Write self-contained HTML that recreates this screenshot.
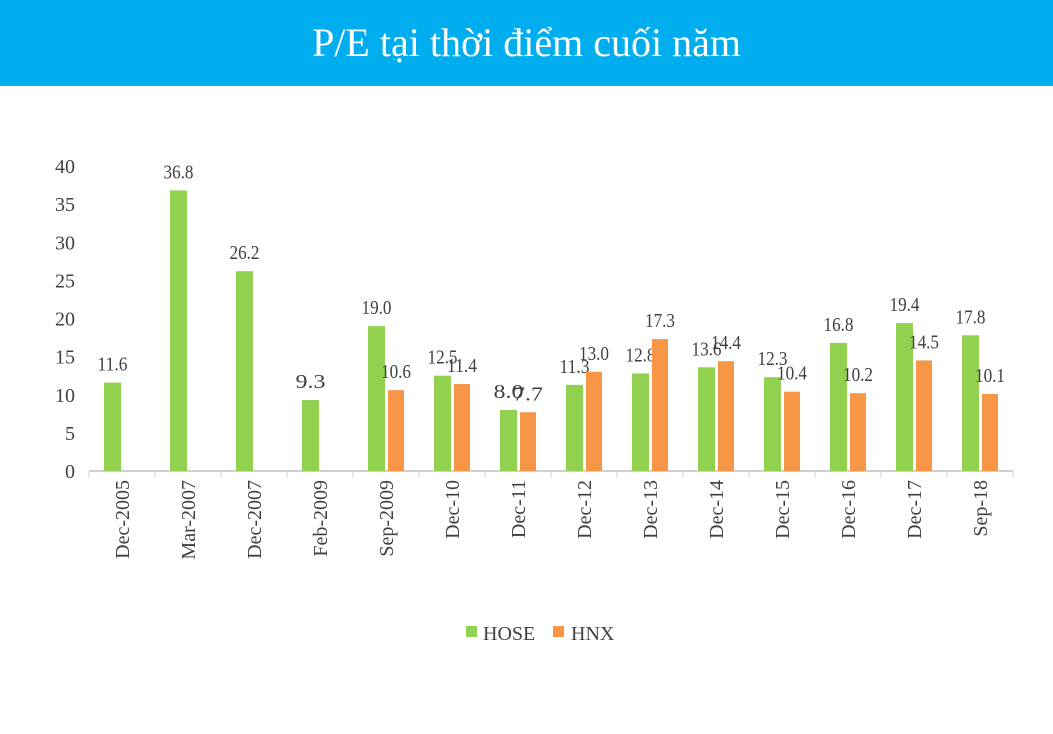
<!DOCTYPE html>
<html><head><meta charset="utf-8"><style>
body{margin:0;width:1053px;height:734px;background:#fff;overflow:hidden;font-family:"Liberation Serif",serif}
#hdr{position:absolute;left:0;top:0;width:1053px;height:86px;background:#00AEEF;color:#fff;font-size:40px;text-align:center;line-height:86px}
svg{position:absolute;left:0;top:0}
text{font-family:"Liberation Serif",serif;fill:#404040}
</style></head><body>
<div id="hdr">P/E tại thời điểm cuối năm</div>
<svg id="c" width="1053" height="734"></svg>
<script>
const categories=["Dec-2005","Mar-2007","Dec-2007","Feb-2009","Sep-2009","Dec-10","Dec-11","Dec-12","Dec-13","Dec-14","Dec-15","Dec-16","Dec-17","Sep-18"];
const hose=[11.6,36.8,26.2,9.3,19.0,12.5,8.0,11.3,12.8,13.6,12.3,16.8,19.4,17.8];
const hnx=[null,null,null,null,10.6,11.4,7.7,13.0,17.3,14.4,10.4,10.2,14.5,10.1];
const yTicks=[0,5,10,15,20,25,30,35,40];
const svg=document.getElementById('c');const NS='http://www.w3.org/2000/svg';
function mk(t,a,p){const e=document.createElementNS(NS,t);for(const k in a)e.setAttribute(k,a[k]);(p||svg).appendChild(e);return e;}
const x0=89,cw=66,y0=471,ppu=7.625;
const y=v=>y0-v*ppu;const cx=i=>x0+i*cw;
yTicks.forEach(t=>{const e=mk('text',{x:75,y:y(t)+7,'text-anchor':'end','font-size':20});e.textContent=t;

});
const ax=mk('line',{x1:x0,y1:y0,x2:x0+categories.length*cw,y2:y0,stroke:'#d0d0d0','stroke-width':2});


for(let i=0;i<=categories.length;i++){const tk=mk('line',{x1:cx(i),y1:y0,x2:cx(i),y2:y0+7,stroke:'#d0d0d0','stroke-width':1});

}
function lbl(v,xc){const e=mk('text',{x:xc,y:y(v)-12,'text-anchor':'middle','font-size':20,'textLength':30,'lengthAdjust':'spacingAndGlyphs'});e.textContent=v.toFixed(1);

}
categories.forEach((c,i)=>{
 const gx=cx(i)+15;
 const b=mk('rect',{x:gx,y:y(hose[i]),width:17,height:hose[i]*ppu,fill:'#92D050'});
 
 
 lbl(hose[i],gx+8.5);
 if(hnx[i]!=null){const ox=cx(i)+35;
  const o=mk('rect',{x:ox,y:y(hnx[i]),width:16,height:hnx[i]*ppu,fill:'#F79646'});
  
  
  lbl(hnx[i],ox+8);}
 const t=mk('text',{x:0,y:0,'text-anchor':'end','font-size':20,transform:`translate(${cx(i)+40},480) rotate(-90)`});t.textContent=c;
 
 
});
const lg=mk('g',{});


const l1=mk('rect',{x:466,y:626,width:11,height:11,fill:'#92D050'},lg);


const t1=mk('text',{x:483,y:640,'font-size':20},lg);t1.textContent='HOSE';


const l2=mk('rect',{x:553,y:626,width:11,height:11,fill:'#F79646'},lg);


const t2=mk('text',{x:571,y:640,'font-size':20},lg);t2.textContent='HNX';


</script>
</body></html>
